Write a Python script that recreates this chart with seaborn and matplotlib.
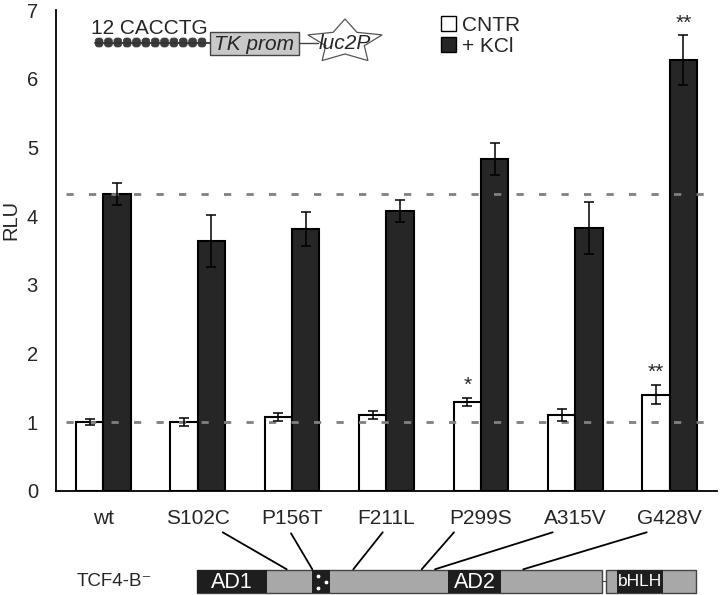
import numpy as np
import pandas as pd
import seaborn as sns
import matplotlib.pyplot as plt
import matplotlib.patches as mpatches
from matplotlib.lines import Line2D

# values
mutants = ['wt', 'S102C', 'P156T', 'F211L', 'P299S', 'A315V', 'G428V']
cntr = [1.00, 1.00, 1.07, 1.10, 1.29, 1.10, 1.40]
cntr_err = [0.05, 0.06, 0.06, 0.06, 0.06, 0.09, 0.14]
kcl = [4.32, 3.64, 3.81, 4.08, 4.83, 3.82, 6.27]
kcl_err = [0.16, 0.38, 0.25, 0.16, 0.24, 0.38, 0.36]
sig_cntr = ['', '', '', '', '*', '', '**']
sig_kcl = ['', '', '', '', '', '', '**']
ref_levels = [1.0, 4.32]
conditions = ['CNTR', '+ KCl']
yticks = [0, 1, 2, 3, 4, 5, 6, 7]

sns.set_style('white')
plt.rcParams['font.family'] = ['Liberation Sans', 'DejaVu Sans']

df = pd.DataFrame({
    'mutant': mutants * 2,
    'condition': [conditions[0]] * len(mutants) + [conditions[1]] * len(mutants),
    'RLU': cntr + kcl,
})

fig = plt.figure(figsize=(7.2, 5.95), dpi=100)
W, H = 720, 595
ax = fig.add_axes([56 / W, (H - 490.7) / H, (717 - 56) / W, (490.7 - 10) / H])

sns.barplot(data=df, x='mutant', y='RLU', hue='condition', palette=['white', '#262626'],
            edgecolor='black', linewidth=1.5, width=0.58, errorbar=None, legend=False, ax=ax)

# error bars and significance stars
for cont, errs, sigs in zip(ax.containers, [cntr_err, kcl_err], [sig_cntr, sig_kcl]):
    xs = [p.get_x() + p.get_width() / 2 for p in cont]
    hs = [p.get_height() for p in cont]
    ax.errorbar(xs, hs, yerr=errs, fmt='none', ecolor='black', elinewidth=1.1,
                capsize=3.5, capthick=1.1, zorder=5)
    for x, h, e, s in zip(xs, hs, errs, sigs):
        if s:
            ax.text(x, h + e + 0.04, s, ha='center', va='bottom', fontsize=15, zorder=6)

# dashed reference lines
for lvl in ref_levels:
    ax.hlines(lvl, -0.394, 6.396, colors='#808080', linewidth=2.0,
              linestyles=(0, (2.6, 5.5)), zorder=4)

ax.set_xlim(-0.5, 6.5)
ax.set_ylim(0, 7)
ax.set_yticks(yticks)
ax.set_yticklabels([str(t) for t in yticks], fontsize=14.5)
ax.set_xticks(np.arange(-0.5, 7, 1))
ax.set_xticklabels([''] * 8)
ax.set_xticks(np.arange(len(mutants)), minor=True)
ax.set_xticklabels(mutants, minor=True, fontsize=15)
ax.tick_params(axis='x', which='major', direction='out', length=5, width=1.3, color='black')
ax.tick_params(axis='x', which='minor', length=0, pad=13)
ax.tick_params(axis='y', direction='out', length=5, width=1.3, color='black', pad=8)
ax.set_xlabel('')
ax.set_ylabel('RLU', fontsize=14.5)
ax.yaxis.set_label_coords(-0.054, 0.563)
for side in ['top', 'right']:
    ax.spines[side].set_visible(False)
for side in ['left', 'bottom']:
    ax.spines[side].set_color('black')
    ax.spines[side].set_linewidth(1.3)

handles = [mpatches.Patch(facecolor='white', edgecolor='black', linewidth=1.0),
           mpatches.Patch(facecolor='#262626', edgecolor='black', linewidth=1.0)]
fig.legend(handles, conditions, loc='upper left', bbox_to_anchor=(441 / W, 1 - 16 / H),
           bbox_transform=fig.transFigure, frameon=False, fontsize=15,
           handlelength=0.7, handleheight=0.7, handletextpad=0.3,
           labelspacing=0.08, borderpad=0, borderaxespad=0)

# overlay in pixel coordinates for the schematic drawings
ov = fig.add_axes([0, 0, 1, 1], facecolor='none')
ov.set_xlim(0, W)
ov.set_ylim(H, 0)
ov.axis('off')

# reporter construct
ov.text(91, 33.5, '12 CACCTG', fontsize=15, ha='left', va='baseline')
ov.plot([95, 210], [42.5, 42.5], color='#333333', lw=1.3)
for i in range(12):
    ov.add_patch(mpatches.FancyBboxPatch((96 + i * 9.35, 38.8), 6.2, 7.4,
                                         boxstyle='round,pad=0.8,rounding_size=3',
                                         facecolor='#3c3c3c', edgecolor='#3c3c3c', lw=0.5))
ov.add_patch(mpatches.Rectangle((210, 31.7), 89, 23.3, facecolor='#c8c8c8',
                                edgecolor='#444444', lw=1.0))
ov.text(254.5, 44, 'TK prom', fontsize=15, style='italic', ha='center', va='center')
ov.plot([299, 318], [42.5, 42.5], color='#444444', lw=1.0)
ang = np.pi / 2 + np.arange(10) * np.pi / 5
rad = np.where(np.arange(10) % 2 == 0, 1.0, 0.52)
sx = 345 + 39 * rad * np.cos(ang)
sy = 42 - 23 * rad * np.sin(ang)
ov.add_patch(mpatches.Polygon(np.column_stack([sx, sy]), closed=True, facecolor='white',
                              edgecolor='#555555', lw=0.9))
ov.text(345, 43.5, 'luc2P', fontsize=15, style='italic', ha='center', va='center')

# protein schematic
ov.text(77, 581.5, 'TCF4-B\u207b', fontsize=13.5, ha='left', va='center')
gray = '#a8a8a8'
dark = '#1e1e1e'
ov.add_patch(mpatches.Rectangle((197, 570), 405, 22.7, facecolor=gray, edgecolor='#444444', lw=1.0))
ov.plot([602, 606], [581, 581], color='#444444', lw=0.8)
ov.add_patch(mpatches.Rectangle((606, 570), 90, 22.7, facecolor=gray, edgecolor='#444444', lw=1.0))
for x0, x1 in [(197, 267), (312, 330), (448, 501), (617, 663)]:
    ov.add_patch(mpatches.Rectangle((x0, 570), x1 - x0, 22.7, facecolor=dark, edgecolor='none'))
ov.text(232, 582.5, 'AD1', color='white', fontsize=15.5, ha='center', va='center')
ov.text(474.5, 582.5, 'AD2', color='white', fontsize=15.5, ha='center', va='center')
ov.text(640, 582, 'bHLH', color='white', fontsize=12.5, ha='center', va='center')
ov.scatter([318, 326, 318], [576, 581.5, 588], s=3, color='white', zorder=5)

link_top = [(222.7, 532.3), (291, 533.3), (382.7, 532.3), (454, 532.3), (552.7, 532.3), (646.7, 532.3)]
link_bot = [(286.7, 569.3), (312.3, 569.3), (353.3, 569.3), (421.7, 569.3), (435, 569.3), (523.3, 569.3)]
for (x0, y0), (x1, y1) in zip(link_top, link_bot):
    ov.add_line(Line2D([x0, x1], [y0, y1], color='black', lw=1.3))

fig.savefig('out.png', dpi=100)
